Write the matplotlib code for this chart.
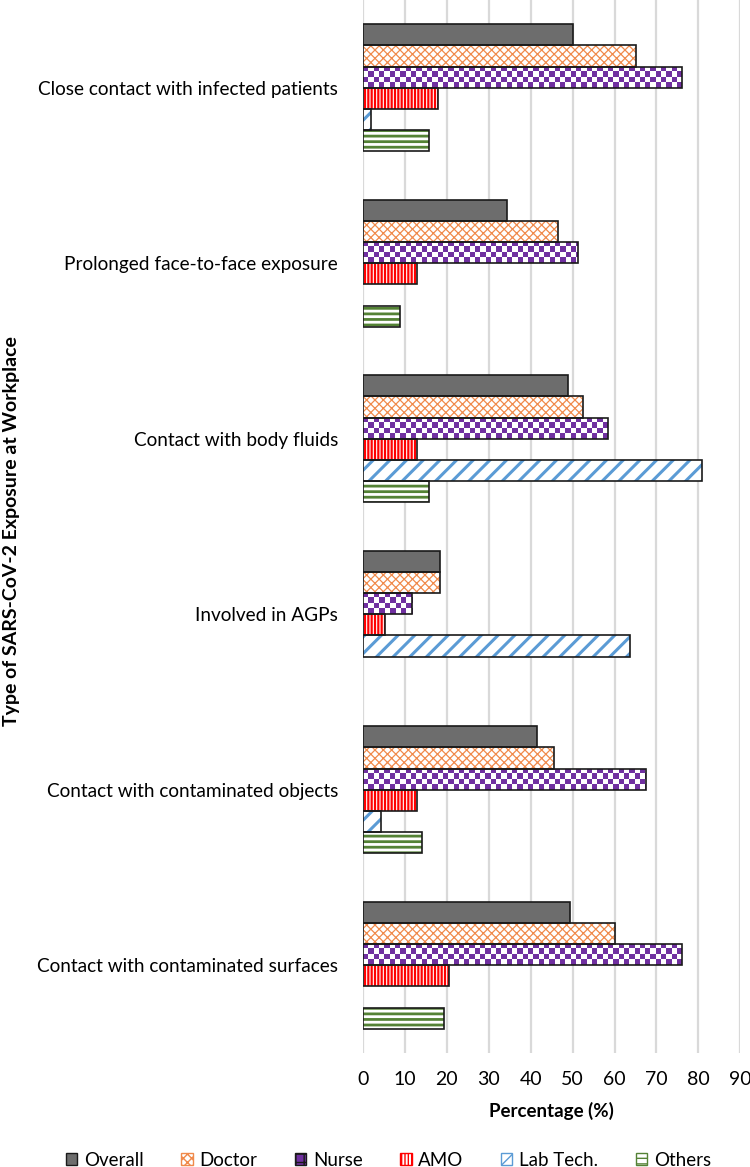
import numpy as np
import matplotlib
matplotlib.use("Agg")
import matplotlib.pyplot as plt
from matplotlib.patches import Patch

categories = ["Close contact with infected patients",
              "Prolonged face-to-face exposure",
              "Contact with body fluids",
              "Involved in AGPs",
              "Contact with contaminated objects",
              "Contact with contaminated surfaces"]
groups = ["Overall", "Doctor", "Nurse", "AMO", "Lab Tech.", "Others"]

overall = [50.2, 34.3, 49.0, 18.3, 41.5, 49.5]
doctor = [65.1, 46.6, 52.4, 18.3, 45.5, 60.1]
nurse = [76.1, 51.2, 58.4, 11.7, 67.5, 76.1]
amo = [17.9, 12.8, 12.8, 5.2, 12.8, 20.6]
lab_tech = [2.0, 0.0, 80.9, 63.7, 4.2, 0.0]
others = [15.8, 8.8, 15.7, 0.0, 14.1, 19.4]
series = [overall, doctor, nurse, amo, lab_tech, others]
xticks = [0, 10, 20, 30, 40, 50, 60, 70, 80, 90]

FONT = ["Lato", "DejaVu Sans"]
plt.rcParams["font.family"] = FONT

styles = [
    dict(face="#6d6d6d", hc=None, hatch=None, lw=0),
    dict(face="#ffffff", hc="#f08a4b", hatch="xxxx", lw=0.9),
    dict(face="#ffffff", hc="#7030a0", hatch="check", lw=0),
    dict(face="#ffffff", hc="#ff0000", hatch="|||||", lw=1.6),
    dict(face="#ffffff", hc="#5b9bd5", hatch="//", lw=2.2),
    dict(face="#ffffff", hc="#548235", hatch="---", lw=2.0),
]

fig = plt.figure(figsize=(7.5, 11.67), dpi=100)
ax = fig.add_axes([0.484, 0.0977, 0.503, 0.9023])

n = len(groups)
h = 0.121
y = np.arange(len(categories))

for i, (vals, st) in enumerate(zip(series, styles)):
    pos = y + (i - (n - 1) / 2) * h
    if st["hatch"] == "check":
        bars = ax.barh(pos, vals, height=h, color="white", edgecolor="none", zorder=2)
        sq = 1.27
        for b in bars:
            w = b.get_width()
            if w <= 0:
                continue
            ncols = int(np.ceil(w / sq))
            nrows = 4
            img = np.indices((nrows, ncols)).sum(axis=0) % 2
            y0, y1 = b.get_y(), b.get_y() + b.get_height()
            im = ax.imshow(img, cmap=matplotlib.colors.ListedColormap(["#7030a0", "#ffffff"]),
                           extent=(0, ncols * sq, y1, y0), aspect="auto",
                           interpolation="nearest", zorder=2.5)
            im.set_clip_path(b)
    elif st["hatch"]:
        with plt.rc_context({"hatch.linewidth": st["lw"]}):
            ax.barh(pos, vals, height=h, color=st["face"], edgecolor=st["hc"],
                    hatch=st["hatch"], linewidth=0, zorder=2)
    else:
        ax.barh(pos, vals, height=h, color=st["face"], edgecolor="none", zorder=2)
    ax.barh(pos, [v if v > 0 else np.nan for v in vals], height=h, fill=False,
            edgecolor="#1a1a1a", linewidth=1.2, zorder=3)

ax.set_xlim(0, 90)
ax.set_ylim(len(categories) - 0.5, -0.5)
ax.set_xticks(xticks)
ax.set_xticklabels([str(t) for t in xticks], fontsize=14)
ax.set_yticks(y)
ax.set_yticklabels(categories, fontsize=13.7)
ax.tick_params(axis="both", length=0)
ax.tick_params(axis="y", pad=18)
ax.tick_params(axis="x", pad=13)
for s in ax.spines.values():
    s.set_visible(False)
ax.grid(axis="x", color="#d9d9d9", linewidth=1.6, zorder=0)
ax.set_axisbelow(True)
ax.set_xlabel("Percentage (%)", fontsize=13.5, fontweight="bold", labelpad=10)

fig.text(0.016, 0.545, "Type of SARS-CoV-2 Exposure at Workplace", rotation=90,
         ha="center", va="center", fontsize=14, fontweight="bold")

handles = []
for g, st in zip(groups, styles):
    if st["hatch"] is None:
        handles.append(Patch(facecolor=st["face"], edgecolor="#1a1a1a", label=g))
    elif st["hatch"] == "check":
        handles.append(Patch(facecolor="#7030a0", edgecolor="#1a1a1a", hatch="++", label=g))
    else:
        handles.append(Patch(facecolor="white", edgecolor=st["hc"], hatch=st["hatch"], label=g))
leg = fig.legend(handles=handles, loc="lower center", ncol=6, frameon=False,
                 bbox_to_anchor=(0.518, -0.016), fontsize=13.5, handlelength=0.6,
                 handleheight=0.6, handletextpad=0.37, columnspacing=2.0)

fig.savefig("out.png", dpi=100)
